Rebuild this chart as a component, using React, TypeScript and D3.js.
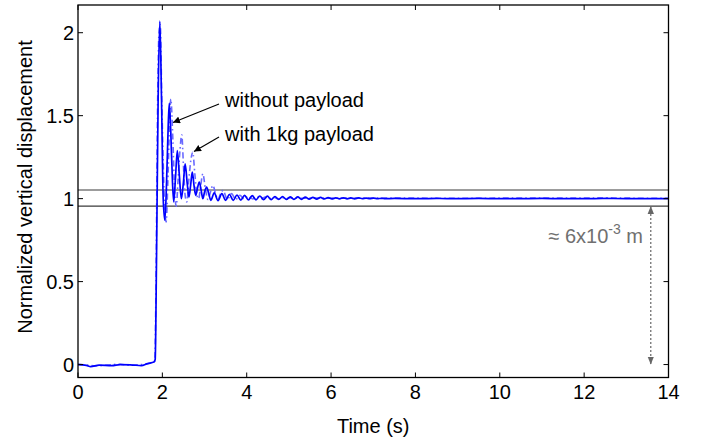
import React from 'react';
import * as d3 from 'd3';

// time (s) and normalized displacement
const timeNoPayload = [
  0, 0.2, 0.3, 0.5, 0.8, 1.0, 1.3, 1.5, 1.65, 1.8, 1.83, 1.86, 1.9, 1.94, 1.98, 2.02, 2.06, 2.1, 2.14, 2.165,
  2.2, 2.24, 2.27, 2.31, 2.355, 2.4, 2.45, 2.5, 2.54, 2.59, 2.63, 2.67, 2.71, 2.75, 2.79, 2.83, 2.875, 2.92,
  2.96, 3.0, 3.05, 3.1, 3.15, 3.23, 3.32, 3.41, 3.5, 3.59, 3.68, 3.77, 3.86, 3.95, 4.04, 4.13, 4.22, 4.31,
  4.4, 4.49, 4.58, 4.67, 4.76, 4.85, 4.94, 5.03, 5.12, 5.21, 5.3, 5.39, 5.48, 5.57, 5.66, 5.75, 5.84, 5.93,
  6.02, 6.11, 6.2, 6.29, 6.38, 6.47, 6.56, 6.65, 6.74, 6.83, 6.92, 7.01, 7.1, 7.19, 7.28, 7.5, 8.0, 8.5,
  9.0, 9.5, 10.0, 10.5, 11.0, 11.5, 12.0, 12.5, 13.0, 13.5, 14.0,
];
const dispNoPayload = [
  0.0, -0.005, -0.012, -0.004, -0.006, 0.0, -0.003, -0.006, 0.006, 0.015, 0.03, 0.6, 1.6, 2.07, 1.6, 1.0, 0.87, 1.1, 1.45, 1.575,
  1.4, 1.1, 0.98, 1.12, 1.29, 1.15, 1.0, 1.1, 1.21, 1.09, 1.01, 1.08, 1.16, 1.08, 1.02, 1.06, 1.1, 1.05,
  1.0, 1.04, 1.07, 1.03, 0.99, 1.035, 0.988, 1.03, 0.99, 1.026, 0.99, 1.022, 0.991, 1.02, 0.992, 1.018, 0.993, 1.016,
  0.994, 1.015, 0.994, 1.013, 0.995, 1.012, 0.995, 1.011, 0.996, 1.01, 0.996, 1.009, 0.997, 1.008, 0.997, 1.007, 0.998, 1.006,
  0.998, 1.005, 0.999, 1.005, 0.999, 1.004, 0.999, 1.004, 1.0, 1.003, 1.0, 1.003, 1.0, 1.002, 1.0, 1.001, 1.0, 1.001,
  1.0, 1.001, 1.0, 1.0, 1.001, 1.0, 1.0, 1.001, 1.0, 1.0, 1.0,
];

const timePayload = [
  0, 0.25, 0.4, 0.7, 1.0, 1.2, 1.5, 1.7, 1.82, 1.85, 1.88, 1.92, 1.95, 1.99, 2.04, 2.09, 2.13, 2.17, 2.2, 2.25,
  2.29, 2.33, 2.37, 2.42, 2.46, 2.5, 2.54, 2.58, 2.63, 2.68, 2.72, 2.77, 2.82, 2.86, 2.91, 2.96, 3.02, 3.08,
  3.14, 3.2, 3.26, 3.32, 3.38, 3.44, 3.54, 3.64, 3.74, 3.84, 3.94, 4.04, 4.14, 4.24, 4.34, 4.44, 4.54, 4.64,
  4.74, 4.84, 4.94, 5.04, 5.3, 5.6, 6.0, 6.5, 7.0, 8.0, 9.0, 10.0, 11.0, 12.0, 12.5, 13.0, 14.0,
];
const dispPayload = [
  0.002, -0.004, -0.008, -0.003, 0.002, -0.004, 0.0, 0.008, 0.02, 0.5, 1.4, 2.0, 2.05, 1.55, 1.05, 0.86, 1.1, 1.45, 1.6, 1.35,
  1.05, 0.955, 1.1, 1.3, 1.385, 1.2, 1.02, 0.98, 1.12, 1.24, 1.28, 1.15, 1.02, 1.0, 1.08, 1.15, 1.06, 0.995,
  1.04, 1.08, 1.03, 0.995, 1.03, 1.05, 0.995, 1.03, 0.995, 1.02, 0.997, 1.015, 0.998, 1.012, 0.998, 1.01, 0.999, 1.008,
  0.999, 1.006, 1.0, 1.005, 1.002, 1.004, 1.003, 1.003, 1.004, 1.003, 1.002, 1.003, 1.004, 1.003, 1.005, 1.003, 1.002,
];

const xTicks = [0, 2, 4, 6, 8, 10, 12, 14];
const yTicks = [0, 0.5, 1, 1.5, 2];
const bandLevels = [0.955, 1.052];

const W = 709;
const H = 444;
const margin = { left: 78, right: 668.5, top: 5, bottom: 377.5 };
const font = '"Liberation Sans", Arial, Helvetica, sans-serif';

const App: React.FC = () => {
  const x = d3.scaleLinear().domain([0, 14]).range([margin.left, margin.right]);
  const y = d3.scaleLinear().domain([-0.078, 2.167]).range([margin.bottom, margin.top]);

  const makePath = (ts: number[], vs: number[]) =>
    d3
      .line<number>()
      .curve(d3.curveMonotoneX)
      .x((t) => x(t))
      .y((_, i) => y(vs[i]))(ts) || '';

  const arrowX = x(13.58);
  const tick = 5;

  return (
    <svg width={W} height={H} style={{ position: 'absolute', left: 0, top: 0 }} fontFamily={font}>
      <defs>
        <marker id="blk" viewBox="0 0 10 10" refX="10" refY="5" markerWidth="7" markerHeight="7" orient="auto-start-reverse" markerUnits="userSpaceOnUse">
          <path d="M0,0 L10,5 L0,10 z" fill="#000" />
        </marker>
        <marker id="gry" viewBox="0 0 10 10" refX="10" refY="5" markerWidth="8" markerHeight="8" orient="auto-start-reverse" markerUnits="userSpaceOnUse">
          <path d="M0,1 L10,5 L0,9 z" fill="#666" />
        </marker>
        <clipPath id="plot">
          <rect x={margin.left} y={margin.top} width={margin.right - margin.left} height={margin.bottom - margin.top} />
        </clipPath>
      </defs>
      <rect width={W} height={H} fill="#fff" />

      {/* tolerance band */}
      {bandLevels.map((v) => (
        <line key={v} x1={margin.left} x2={margin.right} y1={y(v)} y2={y(v)} stroke="#3a3a3a" strokeWidth={1.2} />
      ))}

      <g clipPath="url(#plot)" fill="none">
        <path d={makePath(timePayload, dispPayload)} stroke="#6a6aff" strokeWidth={1.6} strokeDasharray="6,3,1.5,3" />
        <path d={makePath(timeNoPayload, dispNoPayload)} stroke="#0000ff" strokeWidth={1.7} />
      </g>

      {/* axes box + ticks */}
      <rect x={margin.left} y={margin.top} width={margin.right - margin.left} height={margin.bottom - margin.top} fill="none" stroke="#000" strokeWidth={1.3} />
      {xTicks.map((t) => (
        <g key={'x' + t}>
          <line x1={x(t)} x2={x(t)} y1={margin.bottom} y2={margin.bottom - tick} stroke="#000" />
          <line x1={x(t)} x2={x(t)} y1={margin.top} y2={margin.top + tick} stroke="#000" />
          <text x={x(t)} y={399} fontSize={20} textAnchor="middle" fill="#000">
            {t}
          </text>
        </g>
      ))}
      {yTicks.map((v) => (
        <g key={'y' + v}>
          <line x1={margin.left} x2={margin.left + tick} y1={y(v)} y2={y(v)} stroke="#000" />
          <line x1={margin.right} x2={margin.right - tick} y1={y(v)} y2={y(v)} stroke="#000" />
          <text x={74} y={y(v) + 7} fontSize={20} textAnchor="end" fill="#000">
            {v}
          </text>
        </g>
      ))}

      <text x={(margin.left + margin.right) / 2} y={433} fontSize={20} textAnchor="middle" fill="#000">
        Time (s)
      </text>
      <text transform={`translate(32,${187}) rotate(-90)`} fontSize={20} textAnchor="middle" fill="#000">
        Normalized vertical displacement
      </text>

      {/* annotations */}
      <line x1={219} y1={104} x2={173} y2={122.5} stroke="#000" strokeWidth={1.2} markerEnd="url(#blk)" />
      <text x={225} y={107} fontSize={20} fill="#000">
        without payload
      </text>
      <line x1={219} y1={137} x2={194} y2={151.5} stroke="#000" strokeWidth={1.2} markerEnd="url(#blk)" />
      <text x={225} y={141} fontSize={20} fill="#000">
        with 1kg payload
      </text>

      <line x1={arrowX} x2={arrowX} y1={y(0.955)} y2={y(0)} stroke="#666" strokeWidth={1.2} strokeDasharray="2,2" markerEnd="url(#gry)" markerStart="url(#gry)" />
      <text x={643} y={243} fontSize={20} textAnchor="end" fill="#707070">
        ≈ 6x10<tspan fontSize={14} dy={-9}>-3</tspan>
        <tspan dy={9}> m</tspan>
      </text>
    </svg>
  );
};

export default App;
